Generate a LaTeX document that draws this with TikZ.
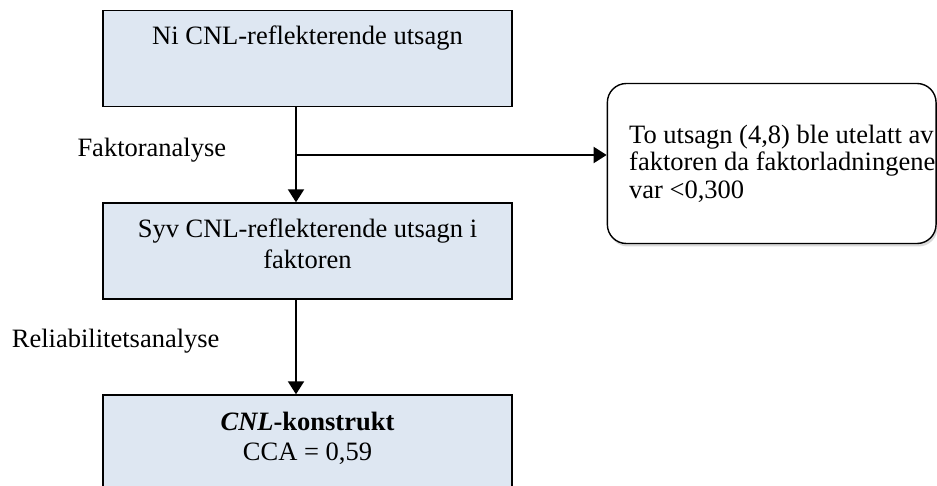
\documentclass[tikz,border=0pt]{standalone}
\usepackage{fontspec}
\setmainfont{Liberation Serif}
\usetikzlibrary{arrows.meta,shadows}
\definecolor{boxfill}{RGB}{222,231,242}
\begin{document}
\begin{tikzpicture}[x=1pt,y=-1pt,
  stepbox/.style={draw=black,line width=1.4pt,fill=boxfill,rectangle,inner sep=0pt,minimum width=409pt},
  notebox/.style={draw=black,line width=1.4pt,fill=white,rectangle,rounded corners=19pt,inner sep=0pt,
    drop shadow={shadow xshift=1.5pt,shadow yshift=-3pt,fill=black,opacity=0.15}},
  txt/.style={font=\fontsize{26.5}{30.6}\selectfont,inner sep=0pt},
  arr/.style={line width=2pt,-{Triangle[width=16pt,length=13pt]}}]
\useasboundingbox (0,0) rectangle (937,486);
\clip (0,0) rectangle (937,486);

% process boxes
\node[stepbox,minimum height=96pt] (ni) at (307.5,58.7) {};
\node[stepbox,minimum height=96pt] (syv) at (307.5,251) {};
\node[stepbox,minimum height=110pt] (cnl) at (307.5,450) {};

% side note
\node[notebox,minimum width=328.7pt,minimum height=160pt] (omit) at (771.7,163.5) {};

% box texts (multi-line nodes are placed by the baseline of their last line)
\node[txt,anchor=base] (tni) at (307.5,45) {Ni CNL-reflekterende utsagn};
\node[txt,anchor=base,align=center] (tsyv) at (307.5,268.3) {Syv CNL-reflekterende utsagn i\\faktoren};
\node[txt,anchor=base,align=center,font=\fontsize{26.5}{30}\selectfont] (tcnl) at (307.5,460) {\textbf{\textit{CNL}-konstrukt}\\CCA = 0,59};
\node[font=\fontsize{26.5}{27.5}\selectfont,inner sep=0pt,anchor=base west,align=left] (tomit) at (629,198.3)
  {To utsagn (4,8) ble utelatt av\\faktoren da faktorladningene\\var <0,300};

% step labels
\node[txt,anchor=base west] (lfak) at (77.3,156.7) {Faktoranalyse};
\node[txt,anchor=base west] (lrel) at (11.7,348) {Reliabilitetsanalyse};

% connectors
\coordinate (ax) at (296,0);
\coordinate (br) at (296,155);
\draw[arr] (ni.south -| ax) -- (syv.north -| ax);
\draw[arr] (br) -- (br -| omit.west);
\draw[arr] (syv.south -| ax) -- (cnl.north -| ax);
\end{tikzpicture}
\end{document}
